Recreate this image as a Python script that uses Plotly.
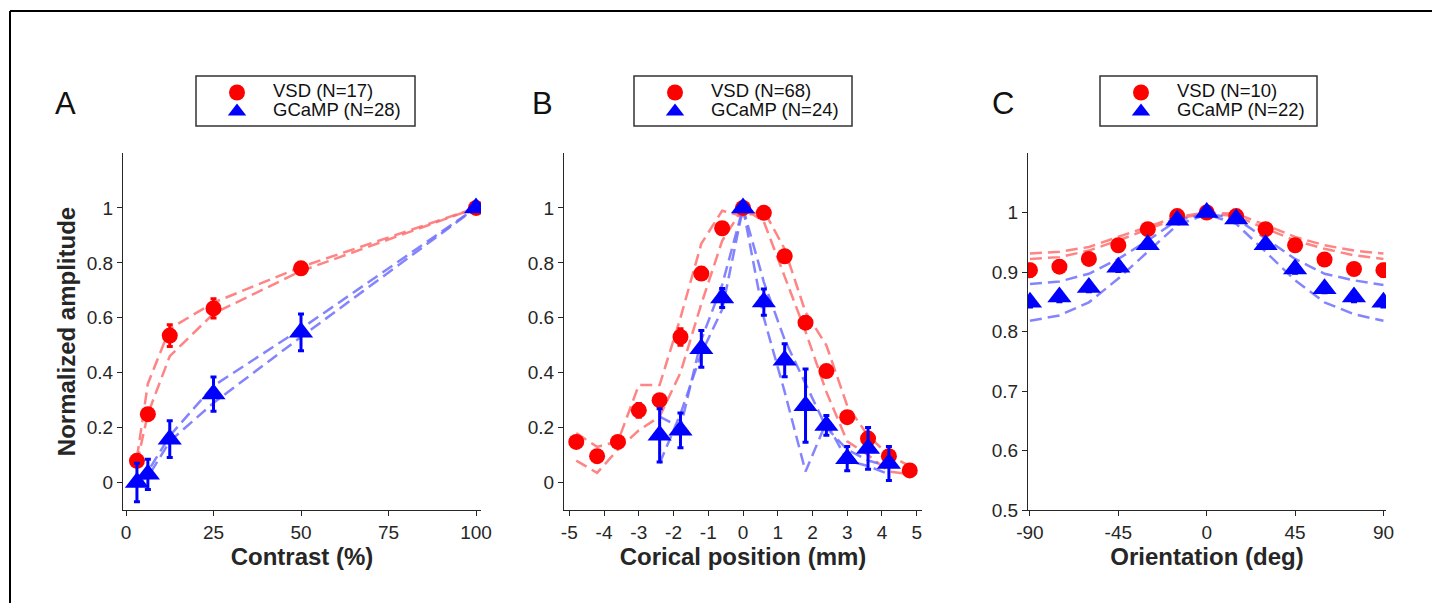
import plotly.graph_objects as go

# ---------------- data ----------------
# Panel A: contrast
contrast = [3.125, 6.25, 12.5, 25, 50, 100]
vsd_A = [0.079, 0.249, 0.535, 0.634, 0.78, 1.0]
vsd_A_err = [0.01, 0.02, 0.04, 0.035, 0.012, 0.0]
gcamp_A = [0.0, 0.03, 0.158, 0.322, 0.547, 1.0]
gcamp_A_err = [0.07, 0.055, 0.067, 0.062, 0.067, 0.0]
vsd_A_hi = [0.09, 0.36, 0.56, 0.655, 0.785, 1.0]
vsd_A_lo = [0.07, 0.25, 0.46, 0.615, 0.77, 1.0]
gcamp_A_hi = [0.02, 0.04, 0.17, 0.352, 0.56, 1.0]
gcamp_A_lo = [0.0, 0.02, 0.15, 0.29, 0.53, 1.0]

# Panel B: cortical position
pos_vsd = [-4.8, -4.2, -3.6, -3.0, -2.4, -1.8, -1.2, -0.6, 0, 0.6, 1.2, 1.8, 2.4, 3.0, 3.6, 4.2, 4.8]
vsd_B = [0.148, 0.096, 0.148, 0.263, 0.30, 0.53, 0.761, 0.926, 1.0, 0.982, 0.824, 0.582, 0.406, 0.238, 0.16, 0.096, 0.044]
vsd_B_err = [0.02, 0.02, 0.015, 0.025, 0.02, 0.03, 0.02, 0.02, 0.0, 0.015, 0.02, 0.02, 0.02, 0.015, 0.02, 0.02, 0.01]
vsd_B_hi = [0.18, 0.13, 0.15, 0.355, 0.355, 0.60, 0.87, 0.99, 0.97, 0.99, 0.85, 0.62, 0.50, 0.28, 0.17, 0.10, 0.06]
vsd_B_lo = [0.08, 0.035, 0.12, 0.19, 0.24, 0.40, 0.65, 0.88, 1.0, 0.95, 0.75, 0.55, 0.33, 0.15, 0.10, 0.04, 0.03]
pos_gcamp = [-2.4, -1.8, -1.2, -0.6, 0, 0.6, 1.2, 1.8, 2.4, 3.0, 3.6, 4.2]
gcamp_B = [0.172, 0.19, 0.487, 0.672, 1.0, 0.657, 0.445, 0.28, 0.208, 0.087, 0.124, 0.069]
gcamp_B_err = [0.097, 0.063, 0.067, 0.035, 0.0, 0.048, 0.06, 0.133, 0.036, 0.044, 0.076, 0.062]
gcamp_B_hi = [0.24, 0.20, 0.52, 0.72, 1.0, 0.73, 0.52, 0.36, 0.20, 0.12, 0.08, 0.06]
gcamp_B_lo = [0.07, 0.25, 0.47, 0.63, 1.0, 0.60, 0.33, 0.04, 0.22, 0.08, 0.06, 0.03]

# Panel C: orientation
orient = [-90, -75, -60, -45, -30, -15, 0, 15, 30, 45, 60, 75, 90]
vsd_C = [0.903, 0.909, 0.922, 0.945, 0.972, 0.994, 1.0, 0.994, 0.972, 0.945, 0.921, 0.905, 0.903]
vsd_C_err = [0.01, 0.009, 0.008, 0.007, 0.006, 0.005, 0.0, 0.005, 0.006, 0.007, 0.008, 0.009, 0.01]
gcamp_C = [0.849, 0.858, 0.874, 0.908, 0.946, 0.987, 1.0, 0.989, 0.946, 0.905, 0.872, 0.858, 0.849]
gcamp_C_err = [0.008, 0.008, 0.007, 0.007, 0.006, 0.005, 0.0, 0.005, 0.006, 0.007, 0.007, 0.008, 0.008]
vsd_C_hi = [0.931, 0.934, 0.942, 0.959, 0.976, 0.993, 1.0, 0.998, 0.979, 0.959, 0.945, 0.936, 0.931]
vsd_C_lo = [0.922, 0.925, 0.936, 0.953, 0.972, 0.99, 0.998, 0.994, 0.973, 0.953, 0.939, 0.928, 0.922]
gcamp_C_hi = [0.88, 0.884, 0.897, 0.922, 0.953, 0.987, 0.998, 0.99, 0.956, 0.922, 0.897, 0.886, 0.878]
gcamp_C_lo = [0.818, 0.827, 0.849, 0.889, 0.934, 0.979, 0.997, 0.981, 0.934, 0.886, 0.849, 0.829, 0.818]

legend_A = ["VSD (N=17)", "GCaMP (N=28)"]
legend_B = ["VSD (N=68)", "GCaMP (N=24)"]
legend_C = ["VSD (N=10)", "GCaMP (N=22)"]

x_ticks_A = [0, 25, 50, 75, 100]
x_ticks_B = [-5, -4, -3, -2, -1, 0, 1, 2, 3, 4, 5]
x_ticks_C = [-90, -45, 0, 45, 90]
y_ticks_AB = [0, 0.2, 0.4, 0.6, 0.8, 1]
y_ticks_C = [0.5, 0.6, 0.7, 0.8, 0.9, 1]

# ---------------- styling ----------------
RED = "#ff0000"
BLUE = "#0000ff"
RED_L = "rgba(255,110,110,0.85)"
BLUE_L = "rgba(110,110,255,0.85)"
DASH = "12px,6px"
FONT = "Liberation Sans, Arial, sans-serif"
AX = "#262626"
W, H = 1432, 603

fig = go.Figure()


def add_panel(xa, ya, leg, xv, vsd, vsd_e, vhi, vlo, xg, gc, gc_e, ghi, glo, names):
    for yy, xx, col in [(vhi, xv, RED_L), (vlo, xv, RED_L), (ghi, xg, BLUE_L), (glo, xg, BLUE_L)]:
        fig.add_trace(go.Scatter(x=xx, y=yy, mode="lines", xaxis=xa, yaxis=ya,
                                 line=dict(color=col, width=2.5, dash=DASH),
                                 showlegend=False, hoverinfo="skip"))
    fig.add_trace(go.Scatter(x=xv, y=vsd, mode="markers", xaxis=xa, yaxis=ya, legend=leg,
                             name='<span style="font-size:18.5px">' + names[0] + '</span>',
                             marker=dict(symbol="circle", size=16, color=RED),
                             error_y=dict(type="data", array=vsd_e, color=RED, thickness=3, width=3)))
    fig.add_trace(go.Scatter(x=xg, y=gc, mode="markers", xaxis=xa, yaxis=ya, legend=leg,
                             name='<span style="font-size:18.5px">' + names[1] + '</span>',
                             marker=dict(symbol="triangle-up", size=21, color=BLUE),
                             error_y=dict(type="data", array=gc_e, color=BLUE, thickness=3, width=3)))


add_panel("x", "y", "legend", contrast, vsd_A, vsd_A_err, vsd_A_hi, vsd_A_lo,
          contrast, gcamp_A, gcamp_A_err, gcamp_A_hi, gcamp_A_lo, legend_A)
add_panel("x2", "y2", "legend2", pos_vsd, vsd_B, vsd_B_err, vsd_B_hi, vsd_B_lo,
          pos_gcamp, gcamp_B, gcamp_B_err, gcamp_B_hi, gcamp_B_lo, legend_B)
add_panel("x3", "y3", "legend3", orient, vsd_C, vsd_C_err, vsd_C_hi, vsd_C_lo,
          orient, gcamp_C, gcamp_C_err, gcamp_C_hi, gcamp_C_lo, legend_C)

ydom = [1 - 510 / H, 1 - 153 / H]


def xdom(l, r):
    return [l / W, r / W]


def lbl(v):
    return [str(t) for t in v]


axis_common = dict(showline=True, linecolor=AX, linewidth=1.3, ticks="outside", ticklen=5,
                   tickcolor=AX, tickwidth=1.3, showgrid=False, zeroline=False, automargin=False,
                   tickfont=dict(family=FONT, size=19, color=AX), mirror=False)
title_font = dict(family=FONT, size=24, color=AX, weight="bold")

fig.update_layout(
    width=W, height=H, margin=dict(l=0, r=0, t=0, b=0, pad=0, autoexpand=False),
    paper_bgcolor="white", plot_bgcolor="white",
    font=dict(family=FONT, color=AX),
    xaxis=dict(domain=xdom(123, 481), range=[-0.857, 101.43], tickvals=x_ticks_A,
               ticktext=lbl(x_ticks_A), anchor="y",
               title=dict(text="Contrast (%)", font=title_font, standoff=4), **axis_common),
    yaxis=dict(domain=ydom, range=[-0.1, 1.2], tickvals=y_ticks_AB, ticktext=lbl(y_ticks_AB),
               anchor="x",
               title=dict(text="Normalized amplitude", font=title_font, standoff=4), **axis_common),
    xaxis2=dict(domain=xdom(564, 922), range=[-5.153, 5.153], tickvals=x_ticks_B,
                ticktext=lbl(x_ticks_B), anchor="y2",
                title=dict(text="Corical position (mm)", font=title_font, standoff=4), **axis_common),
    yaxis2=dict(domain=ydom, range=[-0.1, 1.2], tickvals=y_ticks_AB, ticktext=lbl(y_ticks_AB),
                anchor="x2", **axis_common),
    xaxis3=dict(domain=xdom(1028, 1386), range=[-91.0, 91.3], tickvals=x_ticks_C,
                ticktext=lbl(x_ticks_C), anchor="y3",
                title=dict(text="Orientation (deg)", font=title_font, standoff=4), **axis_common),
    yaxis3=dict(domain=ydom, range=[0.5, 1.1], tickvals=y_ticks_C, ticktext=lbl(y_ticks_C),
                anchor="x3", **axis_common),
)

leg_common = dict(bgcolor="rgba(0,0,0,0)", borderwidth=0, itemwidth=62, xanchor="left",
                  yanchor="top", font=dict(family=FONT, size=12, color="#111"),
                  itemclick=False, itemdoubleclick=False)
fig.update_layout(
    legend=dict(x=201 / W, y=1 - 78 / H, **leg_common),
    legend2=dict(x=639 / W, y=1 - 78 / H, **leg_common),
    legend3=dict(x=1105 / W, y=1 - 78 / H, **leg_common),
)

shapes = []
for l, r in [(196, 415), (634, 852), (1100, 1317)]:
    shapes.append(dict(type="rect", xref="paper", yref="paper", x0=l / W, x1=r / W,
                       y0=1 - 126 / H, y1=1 - 76 / H, line=dict(color="#333", width=1.5),
                       fillcolor="rgba(0,0,0,0)", layer="below"))
# outer frame (top and left)
shapes.append(dict(type="line", xref="paper", yref="paper", x0=10 / W, x1=1, y0=1 - 11 / H, y1=1 - 11 / H,
                   line=dict(color="black", width=2)))
shapes.append(dict(type="line", xref="paper", yref="paper", x0=10 / W, x1=10 / W, y0=0, y1=1 - 11 / H,
                   line=dict(color="black", width=2)))
fig.update_layout(shapes=shapes)

ann = []
for lab, xp in [("A", 65), ("B", 542), ("C", 1003)]:
    ann.append(dict(text=lab, x=xp / W, y=1 - 103 / H, xref="paper", yref="paper", showarrow=False,
                    xanchor="center", yanchor="middle", font=dict(family=FONT, size=31, color="#111")))
fig.update_layout(annotations=ann)

fig.write_html("out.html", config={"displayModeBar": False},
               post_script="document.body.style.margin='0';")
